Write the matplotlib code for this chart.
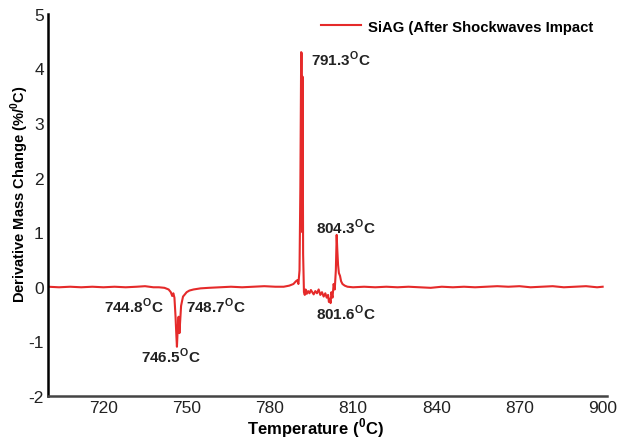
import matplotlib.pyplot as plt

plt.rcParams['font.family'] = ['Liberation Sans', 'DejaVu Sans']
plt.rcParams['mathtext.fontset'] = 'custom'
plt.rcParams['mathtext.rm'] = 'Liberation Sans'
plt.rcParams['mathtext.bf'] = 'Liberation Sans:bold'
plt.rcParams['axes.unicode_minus'] = False

# temperature (C) and derivative mass change (%/C)
temp = [700, 704, 708, 712, 716, 720, 724, 728, 732, 735, 738, 740, 742,
        743.5, 744.3, 744.8, 745.2, 745.6, 746.0, 746.3, 746.5, 746.8,
        747.1, 747.4, 747.7, 748.0, 748.4, 748.7, 749.2, 750, 751, 752.5,
        755, 758, 762, 766, 770, 774, 778, 782, 785, 787, 788.5, 789.4,
        789.9, 790.3, 790.7, 791.0, 791.3, 791.5, 791.7, 791.8, 792.0,
        792.3, 792.6, 792.9, 793.3, 793.8, 794.3, 794.8, 795.3, 795.8,
        796.4, 797.0, 797.6, 798.2, 798.8, 799.4, 800.0, 800.5, 801.0,
        801.3, 801.6, 801.9, 802.2, 802.6, 803.0, 803.4, 803.8, 804.1,
        804.3, 804.6, 804.9, 805.3, 805.7, 806.2, 807, 808, 810, 814, 818,
        822, 826, 830, 834, 838, 842, 846, 850, 854, 858, 862, 866, 870,
        874, 878, 882, 886, 890, 894, 898, 900]
dmass = [0.0, -0.01, 0.0, -0.01, 0.0, -0.01, 0.0, -0.01, 0.0, 0.01, -0.01,
         -0.01, -0.02,
         -0.05, -0.1, -0.17, -0.12, -0.2, -0.55, -0.9, -1.1, -0.75,
         -0.55, -0.85, -0.6, -0.35, -0.25, -0.18, -0.15, -0.1, -0.07, -0.05,
         -0.03, -0.02, -0.01, 0.0, -0.01, 0.0, 0.01, 0.0, 0.0, 0.02, 0.05,
         0.1,
         0.12, 0.05, 0.3, 1.8, 4.3, 4.28, 1.0, 3.85, 0.6,
         -0.1, -0.15, -0.05, -0.13, -0.08, -0.12, -0.06, -0.1, -0.14,
         -0.08, -0.12, -0.05, -0.15, -0.1, -0.18, -0.12, -0.2, -0.15,
         -0.28, -0.22, -0.3, -0.1, -0.2, 0.05, -0.05, 0.3,
         0.95, 0.7, 0.4, 0.25, 0.2, 0.1, 0.05, 0.02, 0.0, -0.01, 0.0, -0.01,
         0.0, -0.01, 0.0, -0.01, -0.02, 0.0, -0.01, 0.0, -0.01, 0.0, 0.01,
         0.0, 0.01, -0.01, 0.0, 0.01, -0.01, 0.0, 0.01, -0.01, 0.0]

peak_labels = ['791.3', '804.3', '801.6', '744.8', '748.7', '746.5']
label_x = [795.0, 796.8, 796.8, 720.3, 749.6, 733.6]
label_y = [4.18, 1.1, -0.47, -0.35, -0.35, -1.25]

fig = plt.figure(figsize=(6.23, 4.39), dpi=100)
ax = fig.add_axes([0.077, 0.096, 0.897, 0.87])

ax.plot(temp, dmass, color='#e52a2a', lw=1.5,
        label='SiAG (After Shockwaves Impact')

for lab, x, y in zip(peak_labels, label_x, label_y):
    ax.text(x, y, lab + r'$^\mathbf{O}$C', fontsize=11, fontweight='bold',
            va='center', ha='left', color='#222222')

ax.set_xlim(700, 901.5)
ax.set_ylim(-2, 5)
ax.set_xticks([720, 750, 780, 810, 840, 870, 900])
ax.set_yticks(range(-2, 6))
ax.tick_params(length=0, labelsize=12.5, pad=3, colors='#222222')

ax.spines['top'].set_visible(False)
ax.spines['right'].set_visible(False)
ax.spines['left'].set_linewidth(1.8)
ax.spines['bottom'].set_linewidth(1.8)
ax.spines['bottom'].set_color('#444444')

ax.set_xlabel(r'Temperature ($^\mathbf{0}$C)', fontsize=12, fontweight='bold')
ax.xaxis.set_label_coords(0.478, -0.05)
ax.set_ylabel(r'Derivative Mass Change (%/$^\mathbf{0}$C)', fontsize=10.5,
              fontweight='bold')
ax.yaxis.set_label_coords(-0.03, 0.531)

ax.legend(loc='upper right', bbox_to_anchor=(1.0, 1.02), frameon=False,
          prop={'weight': 'bold', 'size': 10.7}, handlelength=2.7,
          handletextpad=0.5)

fig.savefig('out.png', dpi=100)
